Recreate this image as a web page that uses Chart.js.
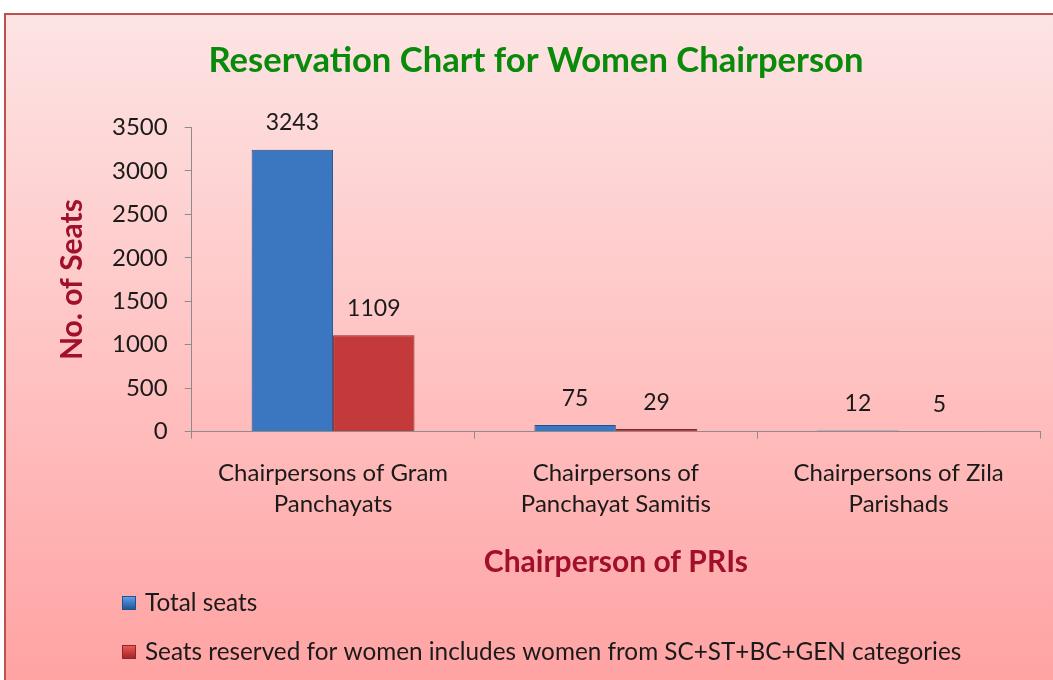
<!DOCTYPE html>
<html>
<head>
<meta charset="utf-8">
<script src="https://cdn.jsdelivr.net/npm/chart.js@4/dist/chart.umd.min.js"></script>
<style>
html,body{margin:0;padding:0;background:#fff;}
#wrap{width:1053px;height:680px;position:relative;}
</style>
</head>
<body>
<div id="wrap"><canvas id="c" width="1053" height="680"></canvas></div>
<script>
const categories = [
  ["Chairpersons of Gram", "Panchayats"],
  ["Chairpersons of", "Panchayat Samitis"],
  ["Chairpersons of Zila", "Parishads"]
];
const totalSeats = [3243, 75, 12];
const reservedSeats = [1109, 29, 5];
const seriesNames = ["Total seats", "Seats reserved for women includes women from SC+ST+BC+GEN categories"];
const yTicks = [0, 500, 1000, 1500, 2000, 2500, 3000, 3500];

const FONT = "Lato, 'Open Sans', sans-serif";

function barGrad(ctx, light, mid, dark) {
  const chart = ctx.chart;
  const el = ctx.element;
  if (!chart.chartArea || !el) return mid;
  const c = chart.ctx;
  const x0 = el.x - el.width / 2, x1 = el.x + el.width / 2;
  if (!isFinite(x0) || !isFinite(x1) || x1 <= x0) return mid;
  const g = c.createLinearGradient(x0, 0, x1, 0);
  g.addColorStop(0, dark);
  g.addColorStop(0.08, mid);
  g.addColorStop(0.5, light);
  g.addColorStop(0.92, mid);
  g.addColorStop(1, dark);
  return g;
}

const bgPlugin = {
  id: 'bg',
  beforeDraw(chart) {
    const c = chart.ctx;
    c.save();
    c.fillStyle = '#ffffff';
    c.fillRect(0, 0, chart.width, chart.height);
    const g = c.createLinearGradient(0, 13, 0, chart.height);
    g.addColorStop(0, '#fde4e4');
    g.addColorStop(0.5, '#ffc4c4');
    g.addColorStop(1, '#ffa3a3');
    c.fillStyle = g;
    c.fillRect(5, 14, chart.width, chart.height);
    c.strokeStyle = '#c0504d';
    c.lineWidth = 2;
    c.beginPath();
    c.moveTo(5, chart.height + 2);
    c.lineTo(5, 14);
    c.lineTo(chart.width + 2, 14);
    c.stroke();
    c.restore();
  }
};

const valuePlugin = {
  id: 'vals',
  afterDatasetsDraw(chart) {
    const c = chart.ctx;
    c.save();
    c.font = "23px " + FONT;
    c.fillStyle = '#1a1a1a';
    c.textAlign = 'center';
    c.textBaseline = 'middle';
    chart.data.datasets.forEach((ds, i) => {
      const meta = chart.getDatasetMeta(i);
      meta.data.forEach((bar, j) => {
        c.fillText(String(ds.data[j]), bar.x, bar.y - 27);
      });
    });
    c.restore();
  }
};

const legendPlugin = {
  id: 'customLegend',
  afterDraw(chart) {
    const c = chart.ctx;
    c.save();
    c.font = "24.3px " + FONT;
    c.textBaseline = 'middle';
    c.textAlign = 'left';
    const ys = [603, 652];
    const cols = [['#6aa5e8', '#3b78c4', '#24508a'], ['#ee6060', '#cc3a3a', '#8e2828']];
    chart.data.datasets.forEach((ds, i) => {
      const y = ys[i];
      const x = 122, s = 14;
      const g = c.createLinearGradient(x, y - s / 2, x, y + s / 2);
      g.addColorStop(0, cols[i][0]);
      g.addColorStop(0.5, cols[i][1]);
      g.addColorStop(1, cols[i][2]);
      c.fillStyle = g;
      c.fillRect(x, y - s / 2, s, s);
      c.strokeStyle = cols[i][2];
      c.lineWidth = 1;
      c.strokeRect(x + 0.5, y - s / 2 + 0.5, s - 1, s - 1);
      c.fillStyle = '#1a1a1a';
      c.fillText(ds.label, x + s + 9, y);
    });
    c.restore();
  }
};

new Chart(document.getElementById('c'), {
  type: 'bar',
  data: {
    labels: categories,
    datasets: [
      {
        label: seriesNames[0],
        data: totalSeats,
        backgroundColor: (ctx) => barGrad(ctx, '#4a8ad8', '#3b76c0', '#26538e'),
        borderColor: '#24508a',
        borderWidth: 1
      },
      {
        label: seriesNames[1],
        data: reservedSeats,
        backgroundColor: (ctx) => barGrad(ctx, '#d84444', '#c43a3a', '#8e2828'),
        borderColor: '#8a2626',
        borderWidth: 1
      }
    ]
  },
  options: {
    responsive: false,
    animation: false,
    devicePixelRatio: 1,
    datasets: { bar: { categoryPercentage: 0.576, barPercentage: 1 } },
    layout: { padding: { top: 0, left: 32, right: 13, bottom: 100 } },
    plugins: {
      legend: { display: false },
      tooltip: { enabled: false },
      title: {
        display: true,
        text: 'Reservation Chart for Women Chairperson',
        color: '#0a8a0a',
        font: { family: FONT, size: 34.6, weight: 'bold', lineHeight: 1.2 },
        padding: { top: 40, bottom: 46 }
      }
    },
    scales: {
      x: {
        grid: {
          display: true,
          drawOnChartArea: false,
          drawTicks: true,
          tickLength: 7,
          color: '#8c8c8c',
          offset: true
        },
        border: { display: true, color: '#8c8c8c', width: 1 },
        ticks: {
          color: '#1a1a1a',
          font: { family: FONT, size: 24, lineHeight: 1.3 },
          padding: 19,
          maxRotation: 0,
          autoSkip: false
        },
        title: {
          display: true,
          text: 'Chairperson of PRIs',
          color: '#a0102a',
          font: { family: FONT, size: 30, weight: 'bold', lineHeight: 1.2 },
          padding: { top: 5, bottom: 0 }
        }
      },
      y: {
        min: 0,
        max: 3500,
        afterBuildTicks(scale) { scale.ticks = yTicks.map(v => ({ value: v })); },
        grid: {
          display: true,
          drawOnChartArea: false,
          drawTicks: true,
          tickLength: 7,
          color: '#8c8c8c'
        },
        border: { display: true, color: '#8c8c8c', width: 1 },
        ticks: {
          color: '#1a1a1a',
          font: { family: FONT, size: 24 },
          padding: 17,
          callback: (v) => String(v)
        },
        title: {
          display: true,
          text: 'No. of Seats',
          color: '#a0102a',
          font: { family: FONT, size: 30, weight: 'bold', lineHeight: 1.2 },
          padding: { top: 22, bottom: 5 }
        }
      }
    }
  },
  plugins: [bgPlugin, valuePlugin, legendPlugin]
});
</script>
</body>
</html>
